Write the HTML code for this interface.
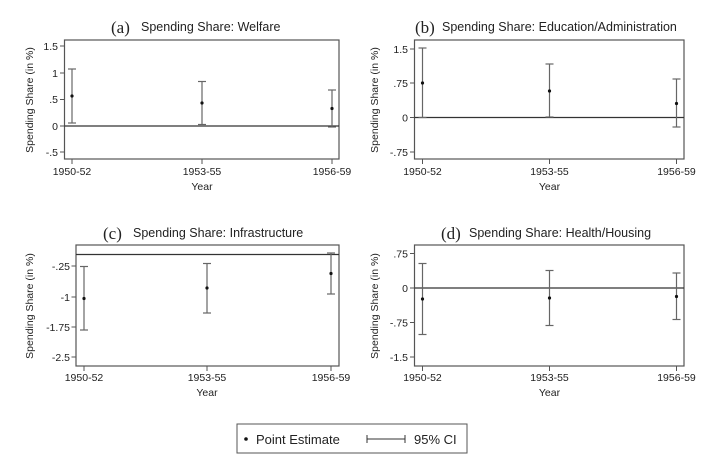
<!DOCTYPE html>
<html><head><meta charset="utf-8"><style>
html,body{margin:0;padding:0;background:#fff;}
svg{display:block;font-family:"Liberation Sans",sans-serif;}
</style></head><body>
<svg width="724" height="472" viewBox="0 0 724 472" xmlns="http://www.w3.org/2000/svg">
<g font-size="10.5" fill="#222">
<!-- Panel a -->
<text x="111" y="33" font-family="Liberation Serif,serif" font-size="17">(a)</text>
<text x="141" y="31" font-size="12.5">Spending Share: Welfare</text>
<rect x="64.5" y="40" width="274.5" height="119" fill="none" stroke="#555" stroke-width="1.2"/>
<g stroke="#555"><line x1="60" x2="64.5" y1="46" y2="46"/><line x1="60" x2="64.5" y1="73" y2="73"/><line x1="60" x2="64.5" y1="99.5" y2="99.5"/><line x1="60" x2="64.5" y1="126" y2="126"/><line x1="60" x2="64.5" y1="152" y2="152"/>
<line x1="72" x2="72" y1="159" y2="164"/><line x1="202" x2="202" y1="159" y2="164"/><line x1="332" x2="332" y1="159" y2="164"/></g>
<g text-anchor="end"><text x="58" y="50">1.5</text><text x="58" y="77">1</text><text x="58" y="103">.5</text><text x="58" y="130">0</text><text x="58" y="156">-.5</text></g>
<g text-anchor="middle"><text x="72" y="175">1950-52</text><text x="202" y="175">1953-55</text><text x="332" y="175">1956-59</text><text x="202" y="190">Year</text></g>
<text transform="translate(33,100) rotate(-90)" text-anchor="middle">Spending Share (in %)</text>
<line x1="64.5" x2="339" y1="126" y2="126" stroke="#333" stroke-width="1.3"/>
<g stroke="#666" stroke-width="1.2">
<line x1="72" x2="72" y1="69" y2="123"/><line x1="68" x2="76" y1="69" y2="69"/><line x1="68" x2="76" y1="123" y2="123"/>
<line x1="202" x2="202" y1="81.5" y2="124.5"/><line x1="198" x2="206" y1="81.5" y2="81.5"/><line x1="198" x2="206" y1="124.5" y2="124.5"/>
<line x1="332" x2="332" y1="90" y2="127"/><line x1="328" x2="336" y1="90" y2="90"/><line x1="328" x2="336" y1="127" y2="127"/></g>
<circle cx="72" cy="96" r="1.6" fill="#111"/><circle cx="202" cy="103" r="1.6" fill="#111"/><circle cx="332" cy="108.5" r="1.6" fill="#111"/>

<!-- Panel b -->
<text x="415" y="33" font-family="Liberation Serif,serif" font-size="17">(b)</text>
<text x="442" y="31" font-size="12.5">Spending Share: Education/Administration</text>
<rect x="414.5" y="40" width="269.5" height="119" fill="none" stroke="#555" stroke-width="1.2"/>
<g stroke="#555"><line x1="410" x2="414.5" y1="49" y2="49"/><line x1="410" x2="414.5" y1="83" y2="83"/><line x1="410" x2="414.5" y1="117.5" y2="117.5"/><line x1="410" x2="414.5" y1="152" y2="152"/>
<line x1="422.5" x2="422.5" y1="159" y2="164"/><line x1="549.5" x2="549.5" y1="159" y2="164"/><line x1="676.5" x2="676.5" y1="159" y2="164"/></g>
<g text-anchor="end"><text x="408" y="53">1.5</text><text x="408" y="87">.75</text><text x="408" y="121.5">0</text><text x="408" y="156">-.75</text></g>
<g text-anchor="middle"><text x="422.5" y="175">1950-52</text><text x="549.5" y="175">1953-55</text><text x="676.5" y="175">1956-59</text><text x="549.5" y="190">Year</text></g>
<text transform="translate(378,100) rotate(-90)" text-anchor="middle">Spending Share (in %)</text>
<line x1="414.5" x2="684" y1="117.5" y2="117.5" stroke="#333" stroke-width="1.3"/>
<g stroke="#666" stroke-width="1.2">
<line x1="422.5" x2="422.5" y1="48" y2="117.5"/><line x1="418.5" x2="426.5" y1="48" y2="48"/><line x1="418.5" x2="426.5" y1="117.5" y2="117.5"/>
<line x1="549.5" x2="549.5" y1="64" y2="117"/><line x1="545.5" x2="553.5" y1="64" y2="64"/><line x1="545.5" x2="553.5" y1="117" y2="117"/>
<line x1="676.5" x2="676.5" y1="79" y2="127"/><line x1="672.5" x2="680.5" y1="79" y2="79"/><line x1="672.5" x2="680.5" y1="127" y2="127"/></g>
<circle cx="422.5" cy="83" r="1.6" fill="#111"/><circle cx="549.5" cy="91" r="1.6" fill="#111"/><circle cx="676.5" cy="103.5" r="1.6" fill="#111"/>

<!-- Panel c -->
<text x="103" y="239" font-family="Liberation Serif,serif" font-size="17">(c)</text>
<text x="133" y="237" font-size="12.5">Spending Share: Infrastructure</text>
<rect x="76" y="245" width="263" height="121" fill="none" stroke="#555" stroke-width="1.2"/>
<g stroke="#555"><line x1="71.5" x2="76" y1="266" y2="266"/><line x1="71.5" x2="76" y1="297" y2="297"/><line x1="71.5" x2="76" y1="327" y2="327"/><line x1="71.5" x2="76" y1="357" y2="357"/>
<line x1="84" x2="84" y1="366" y2="371"/><line x1="207" x2="207" y1="366" y2="371"/><line x1="331" x2="331" y1="366" y2="371"/></g>
<g text-anchor="end"><text x="70" y="270">-.25</text><text x="70" y="301">-1</text><text x="70" y="331">-1.75</text><text x="70" y="361">-2.5</text></g>
<g text-anchor="middle"><text x="84" y="381">1950-52</text><text x="207" y="381">1953-55</text><text x="331" y="381">1956-59</text><text x="207" y="396">Year</text></g>
<text transform="translate(33,306) rotate(-90)" text-anchor="middle">Spending Share (in %)</text>
<line x1="76" x2="339" y1="254.5" y2="254.5" stroke="#333" stroke-width="1.3"/>
<g stroke="#666" stroke-width="1.2">
<line x1="84" x2="84" y1="266.5" y2="330"/><line x1="80" x2="88" y1="266.5" y2="266.5"/><line x1="80" x2="88" y1="330" y2="330"/>
<line x1="207" x2="207" y1="263.5" y2="313"/><line x1="203" x2="211" y1="263.5" y2="263.5"/><line x1="203" x2="211" y1="313" y2="313"/>
<line x1="331" x2="331" y1="253" y2="294"/><line x1="327" x2="335" y1="253" y2="253"/><line x1="327" x2="335" y1="294" y2="294"/></g>
<circle cx="84" cy="298.5" r="1.6" fill="#111"/><circle cx="207" cy="288" r="1.6" fill="#111"/><circle cx="331" cy="273.5" r="1.6" fill="#111"/>

<!-- Panel d -->
<text x="441" y="239" font-family="Liberation Serif,serif" font-size="17">(d)</text>
<text x="469" y="237" font-size="12.5">Spending Share: Health/Housing</text>
<rect x="414.5" y="245" width="269.5" height="121" fill="none" stroke="#555" stroke-width="1.2"/>
<g stroke="#555"><line x1="410" x2="414.5" y1="253.5" y2="253.5"/><line x1="410" x2="414.5" y1="288" y2="288"/><line x1="410" x2="414.5" y1="322.5" y2="322.5"/><line x1="410" x2="414.5" y1="357" y2="357"/>
<line x1="422.5" x2="422.5" y1="366" y2="371"/><line x1="549.5" x2="549.5" y1="366" y2="371"/><line x1="676.5" x2="676.5" y1="366" y2="371"/></g>
<g text-anchor="end"><text x="408" y="257.5">.75</text><text x="408" y="292">0</text><text x="408" y="326.5">-.75</text><text x="408" y="361">-1.5</text></g>
<g text-anchor="middle"><text x="422.5" y="381">1950-52</text><text x="549.5" y="381">1953-55</text><text x="676.5" y="381">1956-59</text><text x="549.5" y="396">Year</text></g>
<text transform="translate(378,306) rotate(-90)" text-anchor="middle">Spending Share (in %)</text>
<line x1="414.5" x2="684" y1="288" y2="288" stroke="#333" stroke-width="1.3"/>
<g stroke="#666" stroke-width="1.2">
<line x1="422.5" x2="422.5" y1="263.5" y2="334.5"/><line x1="418.5" x2="426.5" y1="263.5" y2="263.5"/><line x1="418.5" x2="426.5" y1="334.5" y2="334.5"/>
<line x1="549.5" x2="549.5" y1="270.5" y2="325.5"/><line x1="545.5" x2="553.5" y1="270.5" y2="270.5"/><line x1="545.5" x2="553.5" y1="325.5" y2="325.5"/>
<line x1="676.5" x2="676.5" y1="273" y2="319.5"/><line x1="672.5" x2="680.5" y1="273" y2="273"/><line x1="672.5" x2="680.5" y1="319.5" y2="319.5"/></g>
<circle cx="422.5" cy="299" r="1.6" fill="#111"/><circle cx="549.5" cy="298" r="1.6" fill="#111"/><circle cx="676.5" cy="296.5" r="1.6" fill="#111"/>

<!-- Legend -->
<rect x="237" y="424" width="230" height="29" fill="none" stroke="#555" stroke-width="1"/>
<circle cx="246" cy="439" r="1.8" fill="#111"/>
<text x="256" y="444" font-size="13">Point Estimate</text>
<g stroke="#333" stroke-width="1"><line x1="367" x2="405" y1="439" y2="439"/><line x1="367" x2="367" y1="435" y2="443"/><line x1="405" x2="405" y1="435" y2="443"/></g>
<text x="414" y="444" font-size="13">95% CI</text>
</g>
</svg>
</body></html>
